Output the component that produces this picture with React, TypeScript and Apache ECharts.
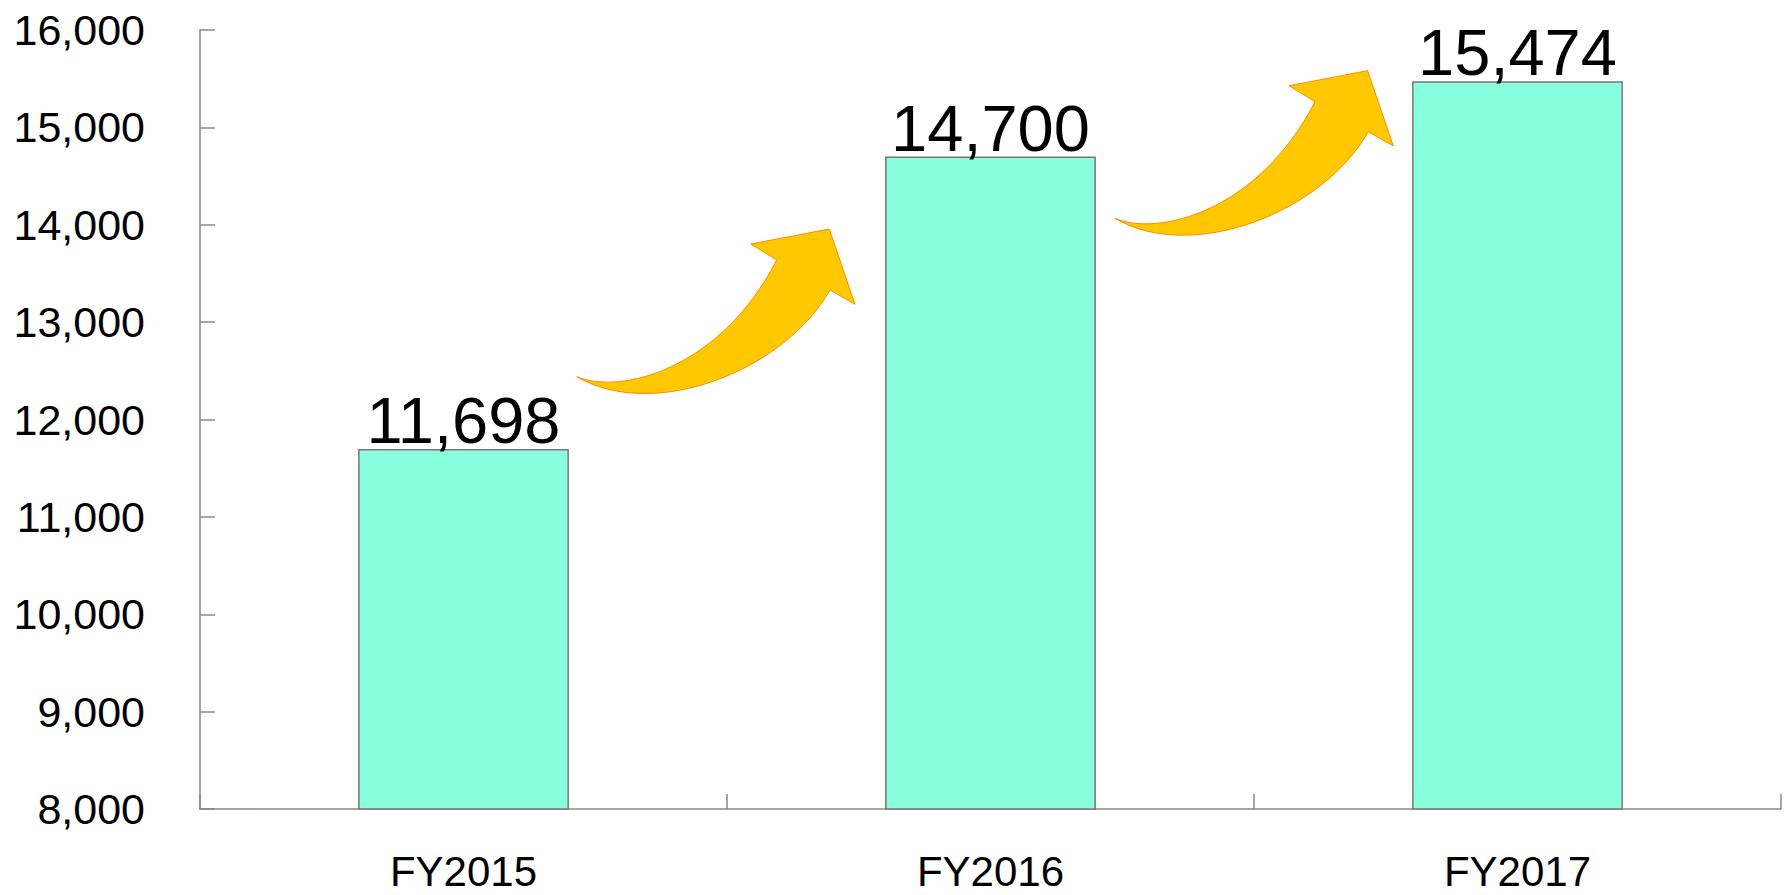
import React, { useEffect, useRef } from "react";
import * as echarts from "echarts";

const categories = ["FY2015", "FY2016", "FY2017"];
const values = [11698, 14700, 15474];
const yMin = 8000;
const yMax = 16000;
const yInterval = 1000;

const ARROW_D =
  "M16.7,166.7 C60,185 160,160 216.7,50 L190.7,34 L269.3,19 L295,94.3 L270,80 C225,160 95,212 16.7,166.7 Z";

let registered = false;
function ensureShape() {
  if (registered) return;
  echarts.graphic.registerShape(
    "curvedArrow",
    (echarts.graphic as any).extendPath(ARROW_D, {})
  );
  registered = true;
}

const fmt = (v: number) => v.toLocaleString("en-US");

export default function App() {
  const ref = useRef<HTMLDivElement>(null);
  useEffect(() => {
    ensureShape();
    document.body.style.margin = "0";
    const chart = echarts.init(ref.current!, null, { renderer: "svg" });
    const arrowStyle = { fill: "#FFC800", stroke: "#FF8C00", lineWidth: 1 };
    chart.setOption({
      animation: false,
      backgroundColor: "#ffffff",
      textStyle: { fontFamily: "Liberation Sans, Arial, sans-serif" },
      grid: { left: 200, right: 6, top: 30, bottom: 86, containLabel: false },
      xAxis: {
        type: "category",
        data: categories,
        boundaryGap: true,
        axisLine: { show: true, lineStyle: { color: "#888888", width: 1.5 } },
        axisTick: {
          show: true,
          inside: true,
          length: 15,
          alignWithLabel: false,
          lineStyle: { color: "#888888", width: 1.5 },
        },
        axisLabel: {
          color: "#000000",
          fontSize: 42,
          margin: 41,
          fontFamily: "Liberation Sans, Arial, sans-serif",
        },
        splitLine: { show: false },
      },
      yAxis: {
        type: "value",
        min: yMin,
        max: yMax,
        interval: yInterval,
        axisLine: { show: true, lineStyle: { color: "#888888", width: 1.5 } },
        axisTick: {
          show: true,
          inside: true,
          length: 15,
          lineStyle: { color: "#888888", width: 1.5 },
        },
        axisLabel: {
          color: "#000000",
          fontSize: 43,
          margin: 55,
          formatter: (v: number) => fmt(v),
          fontFamily: "Liberation Sans, Arial, sans-serif",
        },
        splitLine: { show: false },
      },
      series: [
        {
          type: "bar",
          data: values,
          barWidth: "40%",
          itemStyle: { color: "#88FFDD", borderColor: "#777777", borderWidth: 1.5 },
          label: {
            show: true,
            position: "top",
            distance: -4,
            color: "#000000",
            fontSize: 65,
            fontFamily: "Liberation Sans, Arial, sans-serif",
            formatter: (p: any) => fmt(p.value),
          },
        },
      ],
      graphic: [
        { type: "curvedArrow", x: 560, y: 210, style: arrowStyle, z: 10 },
        { type: "curvedArrow", x: 1098.3, y: 51.7, style: arrowStyle, z: 10 },
      ],
    });
    return () => chart.dispose();
  }, []);
  return (
    <div
      ref={ref}
      style={{ position: "fixed", left: 0, top: 0, width: 1787, height: 895 }}
    />
  );
}
